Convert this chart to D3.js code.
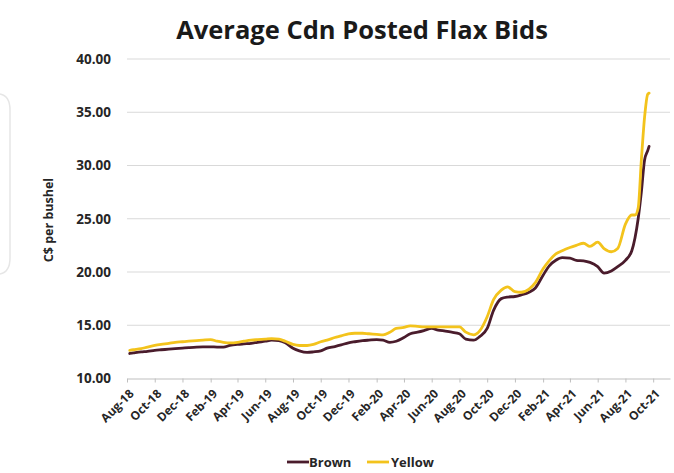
<!DOCTYPE html>
<html>
<head>
<meta charset="utf-8">
<script src="https://cdn.jsdelivr.net/npm/d3@7"></script>
<style>
  html, body { margin: 0; padding: 0; background: #ffffff; }
  svg { display: block; }
  text { font-family: "Open Sans", "DejaVu Sans", sans-serif; }
</style>
</head>
<body>
<svg id="chart" width="674" height="473"></svg>
<script>
// Sample dates of the posted bids
const dates = [
  "2018-08-07","2018-08-15","2018-09-01","2018-09-15","2018-10-01","2018-10-15","2018-11-01","2018-11-15",
  "2018-12-01","2018-12-15","2019-01-01","2019-01-15","2019-02-01","2019-02-15","2019-03-01","2019-03-15",
  "2019-04-01","2019-04-15","2019-05-01","2019-05-15","2019-06-01","2019-06-15","2019-07-01","2019-07-15",
  "2019-08-01","2019-08-15","2019-09-01","2019-09-15","2019-10-01","2019-10-15","2019-11-01","2019-11-15",
  "2019-12-01","2019-12-15","2020-01-01","2020-01-15","2020-02-01","2020-02-15","2020-03-01","2020-03-15",
  "2020-04-01","2020-04-15","2020-05-01","2020-05-15","2020-06-01","2020-06-15","2020-07-01","2020-07-15",
  "2020-08-01","2020-08-15","2020-09-01","2020-09-15","2020-10-01","2020-10-15","2020-11-01","2020-11-15",
  "2020-12-01","2020-12-15","2021-01-01","2021-01-15","2021-02-01","2021-02-15","2021-03-01","2021-03-15",
  "2021-04-01","2021-04-15","2021-05-01","2021-05-15","2021-06-01","2021-06-15","2021-07-01","2021-07-15",
  "2021-08-01","2021-08-15","2021-08-22","2021-08-29","2021-09-05","2021-09-12","2021-09-19","2021-09-22"
];

// Brown flax, C$ per bushel
const brown = [
  12.35,12.40,12.50,12.55,12.65,12.70,12.75,12.80,
  12.85,12.90,12.95,12.97,12.97,12.95,12.95,13.10,
  13.20,13.25,13.30,13.40,13.50,13.60,13.55,13.35,
  12.85,12.60,12.45,12.50,12.60,12.85,13.00,13.15,
  13.35,13.45,13.55,13.60,13.65,13.60,13.40,13.50,
  13.85,14.20,14.35,14.50,14.70,14.55,14.45,14.35,
  14.20,13.70,13.60,13.95,14.70,16.40,17.50,17.65,
  17.70,17.85,18.10,18.50,19.70,20.60,21.10,21.35,
  21.30,21.10,21.05,20.90,20.50,19.90,20.10,20.50,
  21.10,22.00,23.20,25.00,27.50,30.50,31.40,31.80
];

// Yellow flax, C$ per bushel
const yellow = [
  12.65,12.70,12.80,12.95,13.10,13.20,13.30,13.40,
  13.45,13.50,13.55,13.60,13.65,13.50,13.40,13.35,
  13.40,13.50,13.60,13.65,13.70,13.75,13.70,13.50,
  13.20,13.10,13.10,13.20,13.45,13.60,13.85,14.00,
  14.20,14.25,14.25,14.20,14.15,14.10,14.35,14.70,
  14.80,14.95,14.90,14.85,14.85,14.85,14.85,14.85,
  14.85,14.35,14.10,14.50,15.80,17.40,18.30,18.60,
  18.15,18.10,18.40,19.00,20.30,21.10,21.70,22.00,
  22.30,22.50,22.70,22.40,22.80,22.20,21.90,22.20,
  24.50,25.35,25.35,26.00,30.50,34.50,36.70,36.80
];

const yTicks = [10, 15, 20, 25, 30, 35, 40];
const xTickLabels = [
  "Aug-18","Oct-18","Dec-18","Feb-19","Apr-19","Jun-19","Aug-19","Oct-19","Dec-19","Feb-20",
  "Apr-20","Jun-20","Aug-20","Oct-20","Dec-20","Feb-21","Apr-21","Jun-21","Aug-21","Oct-21"
];
const seriesNames = ["Brown", "Yellow"];
const seriesColors = ["#4a1c2c", "#f3c31c"];

const parseDay = d3.utcParse("%Y-%m-%d");
const parseTick = d3.utcParse("%b-%y");
const days = dates.map(parseDay);
const tickDates = xTickLabels.map(parseTick);

const svg = d3.select("#chart");

const plot = { left: 127, right: 670, top: 59, bottom: 378.5 };

const x = d3.scaleUtc()
  .domain([parseDay("2018-08-01"), parseDay("2021-11-07")])
  .range([plot.left, plot.right]);

const y = d3.scaleLinear()
  .domain([10, 40])
  .range([plot.bottom, plot.top]);

// faint bracket at the left edge
svg.append("path")
  .attr("d", "M0,94 Q10,96 10,110 L10,258 Q10,272 0,274")
  .attr("fill", "none")
  .attr("stroke", "#e6e6e6")
  .attr("stroke-width", 1.5);

// title
svg.append("text")
  .attr("x", 362)
  .attr("y", 39)
  .attr("text-anchor", "middle")
  .attr("font-size", 25.5)
  .attr("font-weight", 700)
  .attr("fill", "#1a1a1a")
  .text("Average Cdn Posted Flax Bids");

// horizontal gridlines
svg.append("g")
  .selectAll("line")
  .data(yTicks.filter(v => v !== 10))
  .join("line")
  .attr("x1", plot.left)
  .attr("x2", plot.right)
  .attr("y1", d => y(d))
  .attr("y2", d => y(d))
  .attr("stroke", "#d9d9d9")
  .attr("stroke-width", 1);

// y axis labels
const yAxis = d3.axisLeft(y)
  .tickValues(yTicks)
  .tickFormat(d3.format(".2f"))
  .tickSize(0)
  .tickPadding(16);
const gy = svg.append("g")
  .attr("transform", `translate(${plot.left},0)`)
  .call(yAxis);
gy.select(".domain").remove();
gy.selectAll("text")
  .attr("font-family", "'Open Sans', sans-serif")
  .attr("font-size", 13.5)
  .attr("font-weight", 700)
  .attr("fill", "#262626");

// y axis title
svg.append("text")
  .attr("transform", "translate(53,220) rotate(-90)")
  .attr("text-anchor", "middle")
  .attr("font-size", 12.5)
  .attr("font-weight", 700)
  .attr("fill", "#262626")
  .text("C$ per bushel");

// x axis
const xAxis = d3.axisBottom(x)
  .tickValues(tickDates)
  .tickFormat((d, i) => xTickLabels[i])
  .tickSizeInner(4)
  .tickSizeOuter(0);
const gx = svg.append("g")
  .attr("transform", `translate(0,${plot.bottom})`)
  .call(xAxis);
gx.select(".domain").attr("stroke", "#bfbfbf");
gx.selectAll(".tick line").attr("stroke", "#bfbfbf");
gx.selectAll("text")
  .attr("font-family", "'Open Sans', sans-serif")
  .attr("font-size", 12)
  .attr("font-weight", 700)
  .attr("fill", "#262626")
  .attr("text-anchor", "end")
  .attr("y", 0)
  .attr("dy", 0)
  .attr("transform", "translate(7,16) rotate(-45)");

// series lines
const line = d3.line()
  .x((d, i) => x(days[i]))
  .y(d => y(d))
  .curve(d3.curveMonotoneX);

[brown, yellow].forEach((vals, k) => {
  svg.append("path")
    .datum(vals)
    .attr("fill", "none")
    .attr("stroke", seriesColors[k])
    .attr("stroke-width", 2.8)
    .attr("stroke-linejoin", "round")
    .attr("stroke-linecap", "round")
    .attr("d", line);
});

// legend
const legendItems = [
  { sx: 287, tx: 309 },
  { sx: 367, tx: 391 }
];
const lg = svg.append("g").attr("transform", "translate(0,462)");
seriesNames.forEach((name, k) => {
  lg.append("line")
    .attr("x1", legendItems[k].sx)
    .attr("x2", legendItems[k].sx + 22)
    .attr("y1", 0).attr("y2", 0)
    .attr("stroke", seriesColors[k])
    .attr("stroke-width", 2.8);
  lg.append("text")
    .attr("x", legendItems[k].tx)
    .attr("y", 0)
    .attr("dy", "0.35em")
    .attr("font-size", 13)
    .attr("font-weight", 700)
    .attr("fill", "#262626")
    .text(name);
});
</script>
</body>
</html>
